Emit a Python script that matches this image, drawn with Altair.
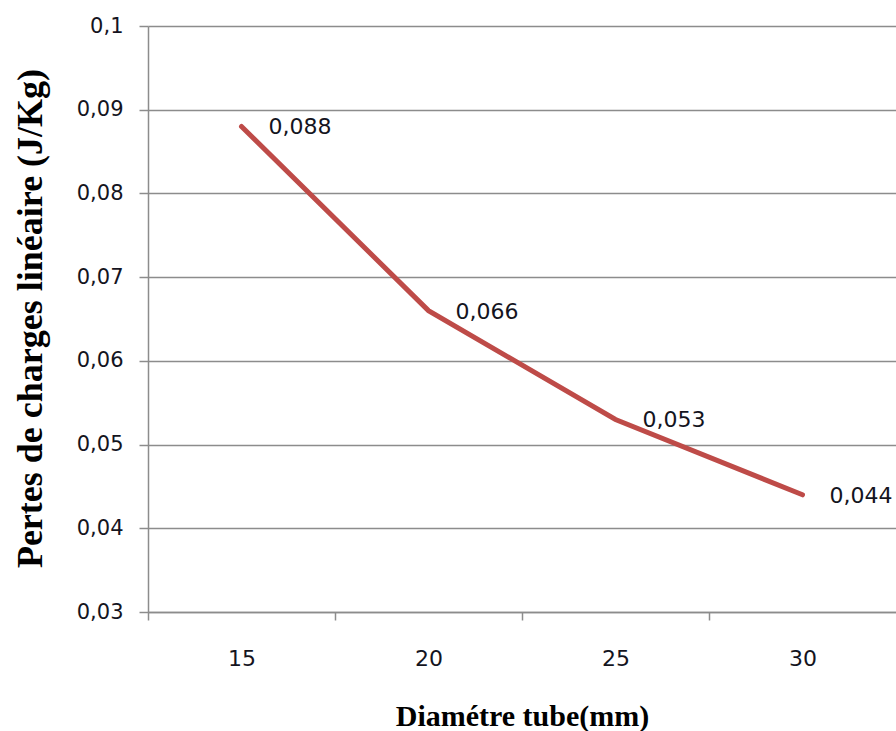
import altair as alt
import pandas as pd

# Linear head loss versus tube diameter
diametres = [15, 20, 25, 30]
pertes = [0.088, 0.066, 0.053, 0.044]
etiquettes = ["0,088", "0,066", "0,053", "0,044"]

# Axis tick positions: category boundaries (ticks) and category centres (labels)
x_ticks = [12.5, 15, 17.5, 20, 22.5, 25, 27.5, 30]
y_ticks = [0.03, 0.04, 0.05, 0.06, 0.07, 0.08, 0.09, 0.1]

df = pd.DataFrame({"d": diametres, "p": pertes, "lab": etiquettes})

GRID = "#8c8c8c"
TEXT = "#14141e"
LABEL_FONT = "DejaVu Sans"
TITLE_FONT = "Liberation Serif"

x_enc = alt.X(
    "d:Q",
    scale=alt.Scale(domain=[12.5, 32.5], nice=False, zero=False),
    axis=alt.Axis(
        values=x_ticks,
        labelExpr="datum.value % 5 === 0 ? format(datum.value, 'd') : ''",
        tickOpacity={"condition": {"test": "datum.value % 5 === 0", "value": 0}, "value": 1},
        tickSize=8,
        tickColor=GRID,
        tickWidth=1.5,
        domainColor=GRID,
        domainWidth=1.5,
        grid=False,
        labelOverlap=False,
        labelFlush=False,
        labelFont=LABEL_FONT,
        labelFontSize=22,
        labelColor=TEXT,
        labelBaseline="middle",
        labelPadding=38,
        title="Diamétre tube(mm)",
        titleFont=TITLE_FONT,
        titleFontSize=30,
        titleFontWeight="bold",
        titleColor="#000000",
        titleAnchor="middle",
        titleBaseline="middle",
        titleY=104,
    ),
)

y_enc = alt.Y(
    "p:Q",
    scale=alt.Scale(domain=[0.03, 0.1], nice=False, zero=False),
    axis=alt.Axis(
        values=y_ticks,
        labelExpr="replace(format(datum.value, '.2~f'), '.', ',')",
        tickSize=9,
        tickColor=GRID,
        tickWidth=1.5,
        domainColor=GRID,
        domainWidth=1.5,
        grid=True,
        gridColor=GRID,
        gridWidth=1.5,
        labelOverlap=False,
        labelFlush=False,
        labelFont=LABEL_FONT,
        labelFontSize=21,
        labelColor=TEXT,
        labelPadding=16,
        title="Pertes de charges linéaire (J/Kg)",
        titleFont=TITLE_FONT,
        titleFontSize=36,
        titleFontWeight="bold",
        titleColor="#000000",
        titleAngle=-90,
        titleAlign="center",
        titleBaseline="middle",
        titleX=-118,
        titleY=292,
    ),
)

base = alt.Chart(df).encode(x=x_enc, y=y_enc)

line = base.mark_line(color="#BE4B48", strokeWidth=5, strokeCap="round")
labels = base.mark_text(
    align="left", baseline="middle", dx=27, dy=1,
    font=LABEL_FONT, fontSize=22, color=TEXT,
).encode(text="lab:N")

chart = (
    alt.layer(line, labels)
    .properties(
        width=748,
        height=586,
        autosize=alt.AutoSizeParams(type="none"),
        padding={"left": 148, "top": 26, "right": 0, "bottom": 119},
        background="white",
    )
    .configure_view(stroke=None)
)

chart.save("out.html", embed_options={"renderer": "svg", "actions": False})
